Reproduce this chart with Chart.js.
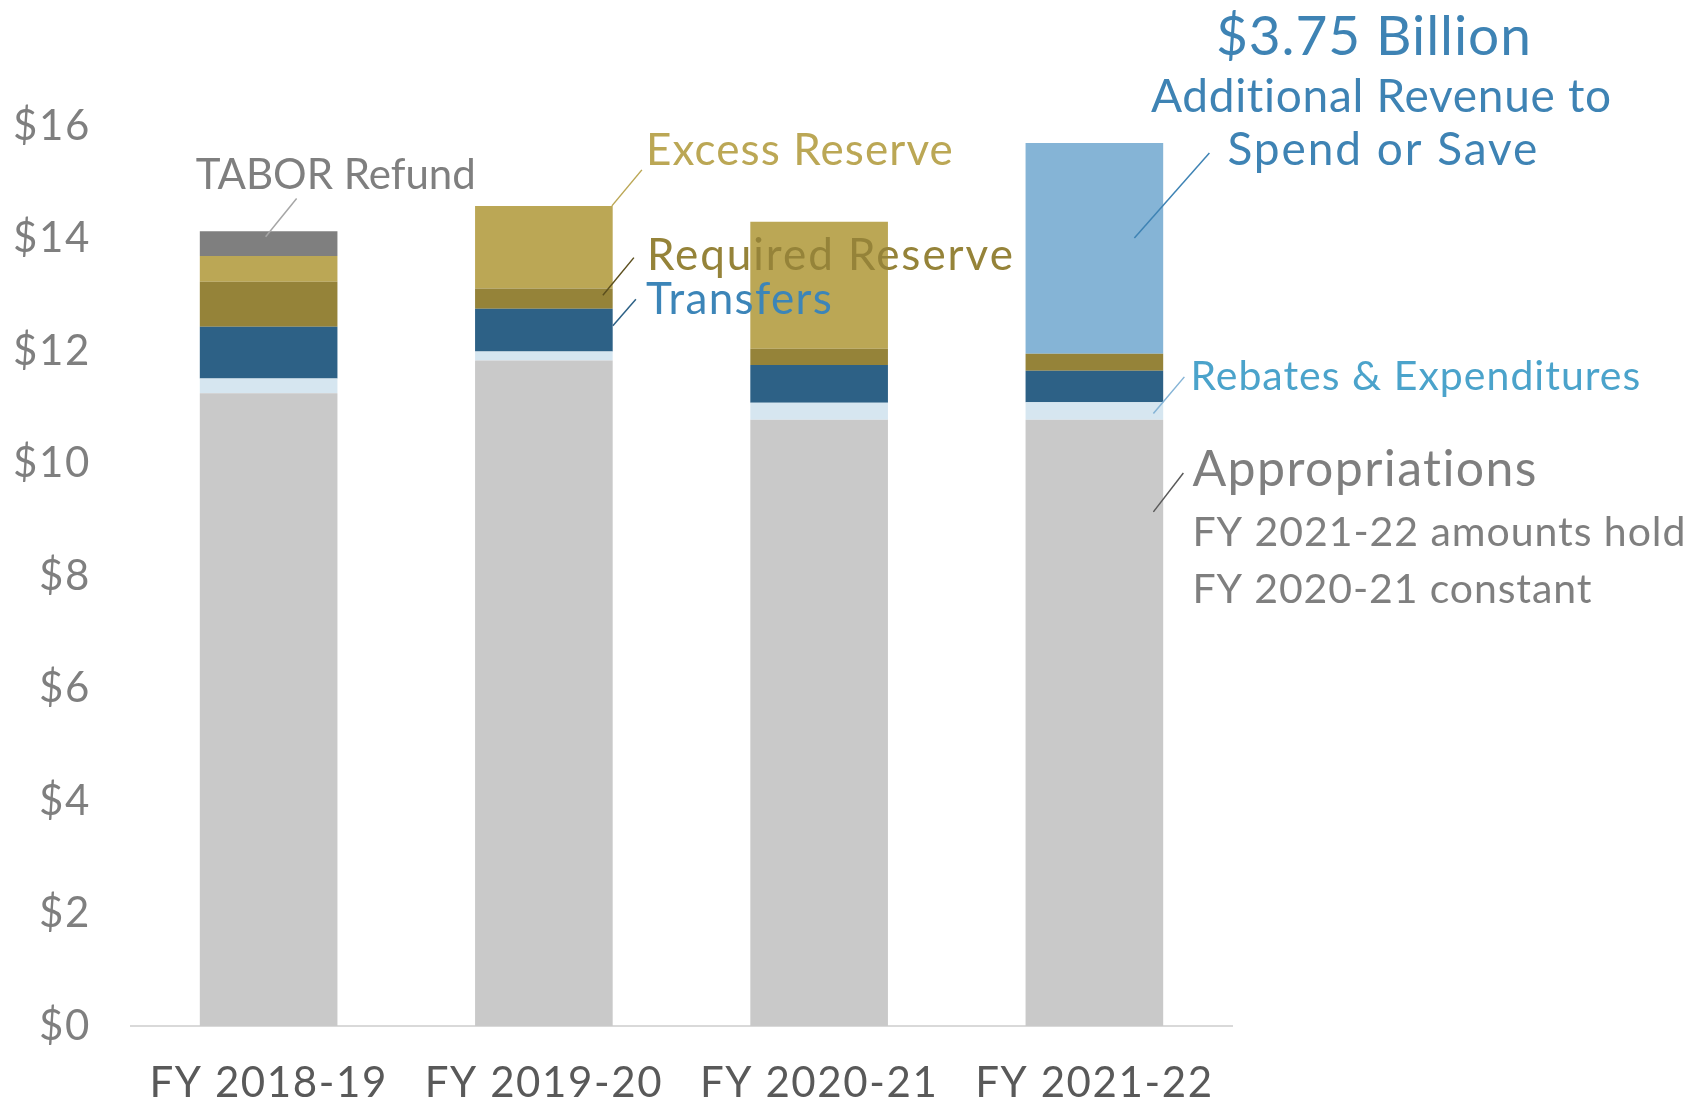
<!DOCTYPE html>
<html>
<head>
<meta charset="utf-8">
<script src="https://cdn.jsdelivr.net/npm/chart.js@4.4.0/dist/chart.umd.min.js"></script>
<style>
    html, body { margin: 0; padding: 0; background: #ffffff; }
    #wrap { width: 1702px; height: 1100px; }
</style>
</head>
<body>
<div id="wrap"><canvas id="budgetChart"></canvas></div>
<script>
// Categories and stacked series (billions of dollars)
const categories = ['FY 2018-19', 'FY 2019-20', 'FY 2020-21', 'FY 2021-22'];
const appropriations = [11.25, 11.83, 10.78, 10.78];
const rebates = [0.26, 0.16, 0.30, 0.31];
const transfers = [0.92, 0.76, 0.67, 0.56];
const requiredReserve = [0.80, 0.36, 0.29, 0.30];
const excessReserve = [0.46, 1.47, 2.26, 0];
const taborRefund = [0.44, 0, 0, 0];
const additionalRevenue = [0, 0, 0, 3.75];
const yTickValues = [0, 2, 4, 6, 8, 10, 12, 14, 16];

const FONT = 'Lato';

// Callout labels: bar index, pixel offset from bar centre, y value of baseline, target text width
const callouts = [
    { text: 'TABOR Refund', i: 0, dx: -73, v: 14.88, size: 42, w: 275, color: '#7f7f7f', align: 'left' },
    { text: 'Excess Reserve', i: 1, dx: 102, v: 15.31, size: 44, w: 307, color: '#bba755', align: 'left' },
    { text: 'Required Reserve', i: 1, dx: 103, v: 13.44, size: 44, w: 366, color: '#958339', align: 'left' },
    { text: 'Transfers', i: 1, dx: 102, v: 12.66, size: 44, w: 186, color: '#3c85b8', align: 'left' },
    { text: '$3.75 Billion', i: 3, dx: 279, v: 17.26, size: 55, w: 315, color: '#3e83b4', align: 'center' },
    { text: 'Additional Revenue to', i: 3, dx: 287, v: 16.25, size: 46, w: 461, color: '#3e83b4', align: 'center' },
    { text: 'Spend or Save', i: 3, dx: 288, v: 15.31, size: 46, w: 310, color: '#3e83b4', align: 'center' },
    { text: 'Rebates & Expenditures', i: 3, dx: 96, v: 11.31, size: 41, w: 450, color: '#4ba3cb', align: 'left' },
    { text: 'Appropriations', i: 3, dx: 98, v: 9.60, size: 50, w: 345, color: '#7f7f7f', align: 'left' },
    { text: 'FY 2021-22 amounts hold', i: 3, dx: 98, v: 8.53, size: 41, w: 493, color: '#7f7f7f', align: 'left' },
    { text: 'FY 2020-21 constant', i: 3, dx: 98, v: 7.52, size: 41, w: 399, color: '#7f7f7f', align: 'left' }
];

// Leader lines: [bar index, dx, value] -> [bar index, dx, value]
const leaders = [
    { from: [0, 28, 14.71], to: [0, -3, 14.03], color: '#a6a6a6' },
    { from: [1, 68, 14.58], to: [1, 98, 15.22], color: '#bba755' },
    { from: [1, 59, 12.99], to: [1, 90, 13.66], color: '#5c4f1e' },
    { from: [1, 69, 12.45], to: [1, 92, 12.92], color: '#2d6186' },
    { from: [3, 115, 15.52], to: [3, 40, 14.01], color: '#3e83b4' },
    { from: [3, 90, 11.54], to: [3, 59, 10.89], color: '#85b4d6' },
    { from: [3, 89, 9.83], to: [3, 59, 9.14], color: '#595959' }
];

const calloutPlugin = {
    id: 'callouts',
    beforeDraw(chart) {
        // a little tracking on the axis labels, the original face is wider
        chart.ctx.letterSpacing = '1.6px';
    },
    beforeDatasetsDraw(chart) {
        chart.ctx.letterSpacing = '0px';
    },
    afterDatasetsDraw(chart) {
        const ctx = chart.ctx;
        const xs = chart.scales.x;
        const ys = chart.scales.y;
        const pt = (a) => [xs.getPixelForValue(a[0]) + a[1], ys.getPixelForValue(a[2])];
        ctx.save();
        leaders.forEach(l => {
            const p1 = pt(l.from);
            const p2 = pt(l.to);
            ctx.strokeStyle = l.color;
            ctx.lineWidth = 1.5;
            ctx.beginPath();
            ctx.moveTo(p1[0], p1[1]);
            ctx.lineTo(p2[0], p2[1]);
            ctx.stroke();
        });
        callouts.forEach(c => {
            const p = pt([c.i, c.dx, c.v]);
            ctx.font = `${c.size}px ${FONT}`;
            ctx.letterSpacing = '0px';
            const base = ctx.measureText(c.text).width;
            const ls = Math.max(0, (c.w - base) / (c.text.length - 1));
            ctx.letterSpacing = ls.toFixed(2) + 'px';
            ctx.fillStyle = c.color;
            ctx.textAlign = 'left';
            ctx.textBaseline = 'alphabetic';
            let x = p[0];
            if (c.align === 'center') x = p[0] - (base + ls * (c.text.length - 1)) / 2;
            ctx.fillText(c.text, x, p[1]);
        });
        ctx.letterSpacing = '0px';
        ctx.restore();
    }
};

function makeSet(label, data, color) {
    return {
        label: label,
        data: data,
        backgroundColor: color,
        borderWidth: 0,
        barPercentage: 1.0,
        categoryPercentage: 0.5
    };
}

const chart = new Chart(document.getElementById('budgetChart'), {
    type: 'bar',
    data: {
        labels: categories,
        datasets: [
            makeSet('Appropriations', appropriations, '#c9c9c9'),
            makeSet('Rebates & Expenditures', rebates, '#d6e6f0'),
            makeSet('Transfers', transfers, '#2d6186'),
            makeSet('Required Reserve', requiredReserve, '#958339'),
            makeSet('Excess Reserve', excessReserve, '#bba755'),
            makeSet('TABOR Refund', taborRefund, '#7f7f7f'),
            makeSet('Additional Revenue', additionalRevenue, '#85b4d6')
        ]
    },
    options: {
        responsive: true,
        maintainAspectRatio: false,
        animation: false,
        layout: { padding: { top: 126, right: 470, bottom: 0, left: 0 } },
        plugins: {
            legend: { display: false },
            tooltip: { enabled: false }
        },
        scales: {
            x: {
                stacked: true,
                grid: { display: false, drawTicks: false },
                border: { display: true, color: '#d9d9d9', width: 2 },
                ticks: {
                    color: '#595959',
                    font: { family: FONT, size: 42 },
                    padding: 32,
                    maxRotation: 0
                },
                afterFit: (s) => { s.height = 74; }
            },
            y: {
                stacked: true,
                min: 0,
                max: 16,
                grid: { display: false, drawTicks: false },
                border: { display: false },
                afterBuildTicks: (s) => { s.ticks = yTickValues.map(v => ({ value: v })); },
                ticks: {
                    color: '#7f7f7f',
                    font: { family: FONT, size: 42 },
                    padding: 40,
                    callback: (v) => '$' + v
                },
                afterFit: (s) => { s.width = 131; }
            }
        }
    },
    plugins: [calloutPlugin]
});
</script>
</body>
</html>
